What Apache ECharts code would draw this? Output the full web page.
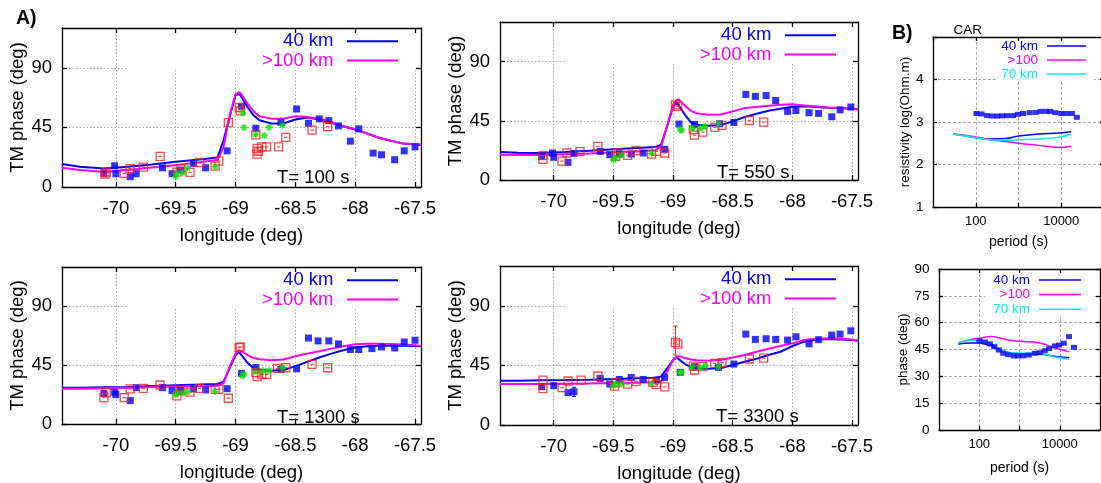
<!DOCTYPE html>
<html><head><meta charset="utf-8">
<script src="https://cdn.jsdelivr.net/npm/echarts@6/dist/echarts.min.js"></script>
<style>html,body{margin:0;padding:0;background:#fff}#c{width:1101px;height:483px}</style>
</head><body><div id="c"></div>
<script>
// ---------------- DATA ----------------
const X_TICKS = [-70, -69.5, -69, -68.5, -68, -67.5];
const Y_TICKS_A = [0, 45, 90];
const PANEL_LABELS = ['T= 100 s', 'T= 550 s', 'T= 1300 s', 'T= 3300 s'];
const LEGEND_A = ['40 km', '>100 km'];
const LEGEND_B = ['40 km', '>100', '70 km'];

// longitudes of the model curves
const LON_MODEL = [-70.45, -70.3, -70.1, -69.9, -69.7, -69.5, -69.3, -69.15, -69.1, -69.05, -69.0, -68.97, -68.95, -68.9, -68.85, -68.8, -68.7, -68.6, -68.5, -68.4, -68.3, -68.2, -68.1, -68.0, -67.9, -67.8, -67.7, -67.6, -67.5, -67.45];

const T100_40KM  = [17.3, 15.3, 14.0, 15.3, 17.0, 19.0, 20.8, 22.3, 35.3, 52.9, 69.2, 70.4, 68.0, 60.4, 54.1, 50.4, 47.9, 47.9, 50.9, 52.4, 50.9, 48.4, 45.9, 43.4, 40.4, 37.1, 34.8, 32.8, 32.3, 31.8];
const T100_100KM = [14.5, 12.8, 11.3, 12.8, 14.8, 16.5, 18.6, 20.3, 30.3, 54.0, 70.0, 71.4, 70.0, 62.9, 57.2, 53.4, 51.6, 51.6, 53.4, 52.9, 51.6, 49.1, 45.9, 43.4, 40.4, 37.1, 34.8, 32.8, 32.3, 31.8];
const T550_40KM  = [21.2, 20.7, 20.5, 21.2, 22.2, 23.3, 24.3, 25.0, 26.8, 40.7, 55.4, 58.9, 56.4, 49.5, 43.7, 42.0, 41.2, 41.7, 44.5, 47.8, 50.3, 52.6, 54.1, 55.6, 56.1, 55.4, 54.9, 54.6, 54.1, 53.8];
const T550_100KM = [19.2, 19.0, 19.0, 19.5, 20.2, 21.0, 21.7, 22.5, 25.5, 40.7, 57.1, 60.9, 60.9, 56.4, 52.6, 50.6, 49.5, 49.8, 52.1, 54.6, 55.4, 56.4, 57.1, 57.6, 56.6, 55.9, 55.1, 54.6, 54.1, 53.8];
const T1300_40KM = [27.8, 27.8, 28.1, 28.3, 29.1, 29.6, 30.1, 30.6, 32.4, 42.5, 52.6, 55.1, 52.6, 46.8, 42.5, 41.2, 40.7, 41.2, 44.2, 47.5, 50.8, 53.8, 56.4, 58.4, 59.4, 59.9, 59.9, 59.9, 59.7, 59.4];
const T1300_100KM= [27.0, 27.0, 27.3, 27.8, 28.3, 28.6, 28.8, 29.3, 31.1, 43.7, 53.8, 56.4, 55.6, 52.6, 50.6, 49.5, 48.8, 49.3, 51.8, 53.8, 55.6, 57.6, 59.4, 60.9, 61.4, 61.4, 61.2, 60.7, 60.2, 59.7];
const T3300_40KM = [33.4, 33.4, 33.7, 33.9, 34.2, 34.7, 35.2, 35.7, 36.5, 42.7, 49.0, 51.0, 49.5, 46.0, 43.7, 42.7, 42.5, 43.0, 45.3, 47.8, 50.0, 52.8, 55.3, 59.6, 62.9, 64.6, 64.9, 64.6, 64.1, 63.6];
const T3300_100KM= [30.9, 30.9, 30.9, 31.2, 31.4, 31.7, 31.9, 32.2, 32.9, 40.2, 49.0, 51.5, 52.0, 50.5, 49.5, 48.8, 48.5, 49.0, 51.0, 52.8, 55.3, 57.6, 59.6, 61.6, 64.1, 65.1, 65.4, 65.1, 64.6, 63.6];

// site observations [longitude, phase]
const T100_BLUE = [[-70.10,10.3],[-70.01,16.0],[-70.00,10.0],[-69.88,7.8],[-69.83,10.0],[-69.61,14.5],[-69.53,10.0],[-69.46,12.8],[-69.35,17.8],[-69.25,14.5],[-69.07,27.3],[-68.95,61.0],[-68.83,44.4],[-68.62,48.9],[-68.49,58.9],[-68.39,48.1],[-68.30,51.4],[-68.22,50.1],[-68.14,46.1],[-68.04,34.6],[-67.97,43.9],[-67.85,25.6],[-67.78,24.3],[-67.67,20.6],[-67.59,27.3],[-67.50,30.3]];
const T100_RED = [[-70.09,9.8],[-70.08,11.3],[-69.93,10.3],[-69.88,13.8],[-69.77,15.0],[-69.63,23.1],[-69.49,11.3],[-69.46,14.0],[-69.38,11.0],[-69.30,18.5],[-69.17,15.8],[-69.14,19.6],[-69.06,48.6],[-68.97,59.9],[-68.96,57.4],[-68.83,39.4],[-68.82,29.1],[-68.82,24.8],[-68.81,27.0],[-68.78,30.3],[-68.74,30.3],[-68.64,30.3],[-68.58,37.4],[-68.36,42.9],[-68.23,45.6]];
const T100_GREEN = [[-69.50,7.8],[-69.49,10.3],[-69.44,10.8],[-69.40,14.5],[-69.17,15.3],[-68.94,55.9],[-68.93,44.9],[-68.83,39.6],[-68.76,38.9],[-68.72,45.1],[-68.61,46.6]];

const T550_BLUE = [[-70.10,17.9],[-70.01,20.5],[-70.00,17.2],[-69.88,13.4],[-69.83,20.2],[-69.61,21.7],[-69.53,19.2],[-69.45,20.0],[-69.35,19.7],[-69.25,20.5],[-69.07,23.3],[-68.95,42.5],[-68.82,42.2],[-68.61,42.7],[-68.49,43.7],[-68.39,65.0],[-68.31,63.5],[-68.22,64.2],[-68.14,60.4],[-68.04,52.1],[-67.97,52.8],[-67.86,51.1],[-67.78,50.6],[-67.67,48.0],[-67.60,53.3],[-67.51,55.4]];
const T550_RED = [[-70.09,18.5],[-70.09,15.7],[-69.93,14.4],[-69.89,20.5],[-69.78,21.5],[-69.63,25.5],[-69.48,17.9],[-69.46,20.5],[-69.38,18.7],[-69.31,22.2],[-69.18,19.7],[-69.14,21.7],[-69.07,20.5],[-68.98,57.1],[-68.96,55.9],[-68.83,38.2],[-68.82,34.1],[-68.75,36.4],[-68.65,39.9],[-68.59,41.5],[-68.36,45.2],[-68.24,44.0]];
const T550_GREEN = [[-69.50,15.4],[-69.48,16.7],[-69.43,19.0],[-69.18,20.2],[-68.94,38.7],[-68.93,37.7],[-68.84,39.2],[-68.77,39.4],[-68.73,40.7],[-68.62,42.7]];

const T1300_BLUE = [[-70.10,23.3],[-70.01,24.3],[-70.00,22.5],[-69.88,17.9],[-69.83,27.8],[-69.61,27.8],[-69.53,25.5],[-69.46,25.8],[-69.35,26.8],[-69.25,26.0],[-69.07,27.0],[-68.95,38.7],[-68.83,43.2],[-68.62,41.7],[-68.49,42.2],[-68.39,65.7],[-68.31,63.5],[-68.22,63.5],[-68.14,61.2],[-68.04,56.9],[-67.97,56.9],[-67.86,57.6],[-67.78,58.9],[-67.67,58.1],[-67.59,62.7],[-67.50,64.0]];
const T1300_RED = [[-70.10,20.2],[-70.08,24.0],[-69.93,20.2],[-69.88,26.8],[-69.77,27.3],[-69.63,29.8],[-69.49,21.5],[-69.46,25.5],[-69.38,24.3],[-69.30,27.3],[-69.17,26.5],[-69.14,26.5],[-69.06,19.7],[-68.97,58.4],[-68.96,58.9],[-68.83,39.2],[-68.82,36.2],[-68.78,37.9],[-68.74,37.9],[-68.65,42.5],[-68.58,43.0],[-68.36,45.5],[-68.23,43.0]];
const T1300_GREEN = [[-69.50,22.2],[-69.49,23.5],[-69.44,23.5],[-69.40,24.5],[-69.17,24.8],[-68.94,36.7],[-68.93,38.2],[-68.83,39.9],[-68.77,40.7],[-68.72,40.7],[-68.61,43.0]];

const T3300_BLUE = [[-70.10,28.9],[-70.00,29.7],[-69.88,24.4],[-69.83,25.1],[-69.61,35.2],[-69.53,30.9],[-69.45,34.4],[-69.35,35.9],[-69.25,34.4],[-69.14,33.9],[-69.07,35.9],[-68.94,39.7],[-68.82,44.0],[-68.62,43.5],[-68.49,46.0],[-68.39,68.6],[-68.31,64.6],[-68.22,65.1],[-68.14,64.6],[-68.04,64.1],[-67.97,66.6],[-67.86,61.3],[-67.78,64.4],[-67.67,67.9],[-67.60,68.6],[-67.51,71.1]];
const T3300_RED = [[-70.09,33.9],[-70.09,27.4],[-69.93,28.2],[-69.88,33.2],[-69.77,33.9],[-69.63,37.0],[-69.49,29.4],[-69.48,31.9],[-69.38,30.9],[-69.31,32.9],[-69.17,32.2],[-69.14,30.7],[-69.07,28.7],[-68.98,62.3],[-68.96,61.1],[-68.83,44.5],[-68.82,41.5],[-68.75,44.0],[-68.65,46.5],[-68.59,47.0],[-68.36,49.8],[-68.24,50.5]];
const T3300_GREEN = [[-69.50,29.7],[-69.48,30.9],[-69.43,30.9],[-69.18,31.2],[-68.94,39.7],[-68.93,39.7],[-68.84,44.0],[-68.77,43.2],[-68.73,44.5],[-68.62,44.0]];
// error bars [longitude, low, high]
const T3300_ERR_RED = [[-68.98, 52.8, 74.7]];
const T3300_ERR_BLUE = [[-69.83, 21.5, 28.5]];

// station CAR sounding curves
const MODEL_T  = [30, 60, 100, 200, 500, 1000, 3000, 9000, 17000];
const RHO_40KM = [2.72, 2.67, 2.63, 2.60, 2.61, 2.67, 2.72, 2.74, 2.77];
const RHO_100KM= [2.72, 2.68, 2.65, 2.59, 2.54, 2.50, 2.45, 2.40, 2.43];
const RHO_70KM = [2.71, 2.67, 2.63, 2.58, 2.57, 2.58, 2.60, 2.64, 2.71];
const PHI_40KM = [48.1, 48.6, 48.6, 47.0, 43.5, 42.8, 42.5, 41.0, 40.4];
const PHI_100KM= [48.8, 50.5, 51.3, 52.2, 50.5, 49.6, 48.8, 45.4, 43.8];
const PHI_70KM = [48.8, 50.0, 50.3, 48.0, 43.5, 43.0, 42.8, 40.5, 39.5];
const CAR_T_RHO = [104,136,184,245,321,412,539,745,973,1274,1821,2516,3293,4467,5543,7251,10000,13110,17760,23200];
const CAR_RHO   = [3.20,3.19,3.15,3.14,3.14,3.145,3.15,3.15,3.18,3.20,3.22,3.225,3.25,3.25,3.25,3.22,3.20,3.20,3.20,3.11];
const CAR_T_PHI = [100,138,184,236,307,394,524,725,927,1233,1706,2400,3190,4246,5433,7516,9620,12590,17000,22590];
const CAR_PHI   = [49.8,49.2,48.1,46.6,44.7,42.9,42.1,41.4,41.4,41.5,41.9,42.9,43.2,44.3,45.5,47.0,47.5,48.5,52.2,46.2];

// ---------------- STYLE / LAYOUT ----------------
const FONT = '"Liberation Sans", Arial, Helvetica, sans-serif';
const BLUE = '#0000ff', MAG = '#ff00ff', CYAN = '#00f0f0', RED = '#ff2020', GREEN = '#00e000';
const RED_SYM = 'path://M0,0L10,0L10,10L0,10Z M3,5L7,5';
const STAR_SYM = 'path://M5,0L5,10M0,5L10,5M1.5,1.5L8.5,8.5M8.5,1.5L1.5,8.5';
const FS = 18.5, FSB = 13.5;

const A_LAYOUT = [
  {left:62,  top:28,  width:359, height:159, lab:[277,178]},
  {left:500, top:22,  width:358, height:158, lab:[717,173]},
  {left:62,  top:267, width:359, height:157, lab:[277,418]},
  {left:500, top:266, width:358, height:159, lab:[716,417]}
];
const B_LAYOUT = [
  {left:933, top:37,  width:171, height:170},
  {left:939, top:269, width:161, height:161}
];
const A_DATA = [
  [T100_40KM, T100_100KM, T100_BLUE, T100_RED, T100_GREEN],
  [T550_40KM, T550_100KM, T550_BLUE, T550_RED, T550_GREEN],
  [T1300_40KM, T1300_100KM, T1300_BLUE, T1300_RED, T1300_GREEN],
  [T3300_40KM, T3300_100KM, T3300_BLUE, T3300_RED, T3300_GREEN]
];

const zip = (xs, ys) => xs.map((x, i) => [x, ys[i]]);
const grids = [], xAxes = [], yAxes = [], series = [], graphics = [];
const black = {color:'#000', width:1.3};
const gridLineA = {show:true, lineStyle:{color:'#a8a8a8', type:[1.5,2], width:1}};
const gridLineB = {show:true, lineStyle:{color:'#a8a8a8', type:[3,2], width:1}};

function errRender(color) {
  return function (params, api) {
    const x = api.value(0), lo = api.value(1), hi = api.value(2);
    const p1 = api.coord([x, lo]), p2 = api.coord([x, hi]);
    const st = {stroke: color, lineWidth: 1};
    return {type:'group', children:[
      {type:'line', shape:{x1:p1[0], y1:p1[1], x2:p2[0], y2:p2[1]}, style:st},
      {type:'line', shape:{x1:p1[0]-2, y1:p1[1], x2:p1[0]+2, y2:p1[1]}, style:st},
      {type:'line', shape:{x1:p2[0]-2, y1:p2[1], x2:p2[0]+2, y2:p2[1]}, style:st}
    ]};
  };
}
// opaque key box (white) drawn above grid lines, below data
function keyBox(common, box, anchor) {
  series.push(Object.assign({type:'custom', z:1, data:[anchor], encode:{x:0, y:1},
    renderItem: () => ({type:'rect', shape:{x:box[0], y:box[1], width:box[2]-box[0], height:box[3]-box[1]}, style:{fill:'#fff'}})
  }, common));
}

function legendBlock(textRight, y0, dy, lineX0, lineX1, names, colors, fs, lw) {
  names.forEach((n, k) => {
    const y = y0 + k * dy;
    graphics.push({type:'text', z:10, style:{text:n, x:textRight, y:y, fill:colors[k], font: fs + 'px ' + FONT, textAlign:'right', textVerticalAlign:'middle', align:'right', verticalAlign:'middle'}});
    graphics.push({type:'line', z:10, shape:{x1:lineX0, y1:y, x2:lineX1, y2:y}, style:{stroke:colors[k], lineWidth:lw}});
  });
}

// ---- panels A ----
A_LAYOUT.forEach((g, i) => {
  grids.push({left:g.left, top:g.top, width:g.width, height:g.height, containLabel:false, outerBoundsMode:'none'});
  const gi = grids.length - 1;
  xAxes.push({gridIndex:gi, type:'value', min:-70.45, max:-67.45, position:'bottom', z:0,
    name:'longitude (deg)', nameLocation:'middle', nameGap:39,
    nameTextStyle:{fontSize:FS, color:'#000', fontFamily:FONT},
    axisLine:{show:true, onZero:false, lineStyle:black},
    axisTick:{show:true, inside:true, length:5, customValues:X_TICKS, lineStyle:black},
    axisLabel:{show:true, customValues:X_TICKS, fontSize:FS, color:'#000', fontFamily:FONT, margin:12},
    splitLine:gridLineA});
  const xb = xAxes.length - 1;
  xAxes.push({gridIndex:gi, type:'value', min:-70.45, max:-67.45, position:'top', z:5,
    axisLine:{show:true, onZero:false, lineStyle:black},
    axisTick:{show:true, inside:true, length:5, customValues:X_TICKS, lineStyle:black},
    axisLabel:{show:false}, splitLine:{show:false}});
  yAxes.push({gridIndex:gi, type:'value', min:0, max:120, position:'left', z:0,
    name:'TM phase (deg)', nameLocation:'middle', nameGap:34,
    nameTextStyle:{fontSize:FS, color:'#000', fontFamily:FONT},
    axisLine:{show:true, onZero:false, lineStyle:black},
    axisTick:{show:true, inside:true, length:5, customValues:Y_TICKS_A, lineStyle:black},
    axisLabel:{show:true, customValues:Y_TICKS_A, fontSize:FS, color:'#000', fontFamily:FONT, margin:10},
    splitLine:gridLineA});
  const yl = yAxes.length - 1;
  yAxes.push({gridIndex:gi, type:'value', min:0, max:120, position:'right', z:5,
    axisLine:{show:true, onZero:false, lineStyle:black},
    axisTick:{show:true, inside:true, length:5, customValues:Y_TICKS_A, lineStyle:black},
    axisLabel:{show:false}, splitLine:{show:false}});

  const d = A_DATA[i];
  const common = {xAxisIndex:xb, yAxisIndex:yl, silent:true, animation:false};
  const by = g.top + g.height * (1 - 90/120) + 2.5;
  keyBox(common, [g.left+66, g.top+2, g.left+g.width-2, by], [-69, 100]);
  series.push(Object.assign({type:'line', name:LEGEND_A[0], data:zip(LON_MODEL, d[0]), symbol:'none', z:2,
    lineStyle:{color:BLUE, width:2}}, common));
  series.push(Object.assign({type:'line', name:LEGEND_A[1], data:zip(LON_MODEL, d[1]), symbol:'none', z:2,
    lineStyle:{color:MAG, width:2}}, common));
  series.push(Object.assign({type:'scatter', data:d[2], symbol:'rect', symbolSize:7, z:3,
    itemStyle:{color:BLUE}}, common));
  series.push(Object.assign({type:'scatter', data:d[3], symbol:RED_SYM, symbolSize:8, z:3,
    itemStyle:{color:'rgba(0,0,0,0)', borderColor:RED, borderWidth:1.3}}, common));
  series.push(Object.assign({type:'scatter', data:d[4], symbol:STAR_SYM, symbolSize:7, z:3,
    itemStyle:{color:'rgba(0,0,0,0)', borderColor:GREEN, borderWidth:1.4}}, common));
  if (i === 3) {
    series.push(Object.assign({type:'custom', data:T3300_ERR_RED, renderItem:errRender(RED), encode:{x:0, y:[1,2]}, z:3}, common));
    series.push(Object.assign({type:'custom', data:T3300_ERR_BLUE, renderItem:errRender(BLUE), encode:{x:0, y:[1,2]}, z:3}, common));
  }
  legendBlock(g.left + 271.5, g.top + 13.3, 19.2, g.left + 285, g.left + 336, LEGEND_A, [BLUE, MAG], FS, 2);
  graphics.push({type:'text', z:10, style:{text:PANEL_LABELS[i], x:g.lab[0], y:g.lab[1], fill:'#000', font: FS + 'px ' + FONT, textAlign:'left', textVerticalAlign:'middle', align:'left', verticalAlign:'middle'}});
});

// ---- panels B ----
const logLabel = v => { const e = Math.round(Math.log10(v)); return (e === 2 || e === 4) ? String(Math.round(Math.pow(10, e))) : ''; };
const B_CFG = [
  {ymin:1, ymax:5, interval:1, ylabels:[1,2,3,4], yname:'resistivity log(Ohm.m)', ygap:17.5, xgap:28,
   lines:[RHO_40KM, RHO_100KM, RHO_70KM], ptsT:CAR_T_RHO, pts:CAR_RHO, anchor:[1000, 4.5],
   box:[998, 39, 1094, 82], leg:[1038, 46, 14, 1047, 1086]},
  {ymin:0, ymax:90, interval:15, ylabels:[0,15,30,45,60,75,90], yname:'phase (deg)', ygap:23, xgap:31,
   lines:[PHI_40KM, PHI_100KM, PHI_70KM], ptsT:CAR_T_PHI, pts:CAR_PHI, anchor:[1000, 80],
   box:[985, 271, 1094, 316], leg:[1030, 280, 14.6, 1039, 1081]}
];
B_LAYOUT.forEach((g, j) => {
  const c = B_CFG[j];
  grids.push({left:g.left, top:g.top, width:g.width, height:g.height, containLabel:false, outerBoundsMode:'none'});
  const gi = grids.length - 1;
  xAxes.push({gridIndex:gi, type:'log', logBase:10, min:10, max:100000, position:'bottom', z:0,
    name:'period (s)', nameLocation:'middle', nameGap:c.xgap,
    nameTextStyle:{fontSize:14, color:'#000', fontFamily:FONT},
    axisLine:{show:true, onZero:false, lineStyle:black},
    axisTick:{show:true, inside:true, length:4, lineStyle:black},
    axisLabel:{show:true, formatter:logLabel, fontSize:13, color:'#000', fontFamily:FONT, margin:8, showMinLabel:false, showMaxLabel:false},
    splitLine:gridLineB});
  const xb = xAxes.length - 1;
  xAxes.push({gridIndex:gi, type:'log', logBase:10, min:10, max:100000, position:'top', z:5,
    axisLine:{show:true, onZero:false, lineStyle:black},
    axisTick:{show:true, inside:true, length:4, lineStyle:black},
    axisLabel:{show:false}, splitLine:{show:false}});
  yAxes.push({gridIndex:gi, type:'value', min:c.ymin, max:c.ymax, interval:c.interval, position:'left', z:0,
    name:c.yname, nameLocation:'middle', nameGap:c.ygap,
    nameTextStyle:{fontSize:FSB, color:'#000', fontFamily:FONT},
    axisLine:{show:true, onZero:false, lineStyle:black},
    axisTick:{show:true, inside:true, length:4, lineStyle:black},
    axisLabel:{show:true, customValues:c.ylabels, fontSize:13.5, color:'#000', fontFamily:FONT, margin:9.5},
    splitLine:gridLineB});
  const yl = yAxes.length - 1;
  yAxes.push({gridIndex:gi, type:'value', min:c.ymin, max:c.ymax, interval:c.interval, position:'right', z:5,
    axisLine:{show:true, onZero:false, lineStyle:black},
    axisTick:{show:true, inside:true, length:4, lineStyle:black},
    axisLabel:{show:false}, splitLine:{show:false}});
  const common = {xAxisIndex:xb, yAxisIndex:yl, silent:true, animation:false};
  keyBox(common, c.box, c.anchor);
  [BLUE, MAG, CYAN].forEach((col, k) => {
    series.push(Object.assign({type:'line', name:LEGEND_B[k], data:zip(MODEL_T, c.lines[k]), symbol:'none', smooth:0.4, z:2,
      lineStyle:{color:col, width:1.5}}, common));
  });
  series.push(Object.assign({type:'scatter', data:zip(c.ptsT, c.pts), symbol:'rect', symbolSize:[6,5], z:3,
    itemStyle:{color:BLUE}}, common));
  legendBlock(c.leg[0], c.leg[1], c.leg[2], c.leg[3], c.leg[4], LEGEND_B, [BLUE, MAG, CYAN], FSB, 1.5);
});

// panel tags
graphics.push({type:'text', z:10, style:{text:'A)', x:16, y:19, fill:'#000', font:'bold 19.5px ' + FONT, textAlign:'left', textVerticalAlign:'middle', align:'left', verticalAlign:'middle'}});
graphics.push({type:'text', z:10, style:{text:'B)', x:892, y:34, fill:'#000', font:'bold 19.5px ' + FONT, textAlign:'left', textVerticalAlign:'middle', align:'left', verticalAlign:'middle'}});
graphics.push({type:'text', z:10, style:{text:'CAR', x:967.7, y:30.5, fill:'#000', font:'13.5px ' + FONT, textAlign:'center', textVerticalAlign:'middle', align:'center', verticalAlign:'middle'}});

const chart = echarts.init(document.getElementById('c'), null, {renderer:'canvas'});
chart.setOption({
  backgroundColor:'#fff', animation:false,
  textStyle:{fontFamily:FONT},
  grid:grids, xAxis:xAxes, yAxis:yAxes, series:series, graphic:{elements:graphics}
});
</script></body></html>
